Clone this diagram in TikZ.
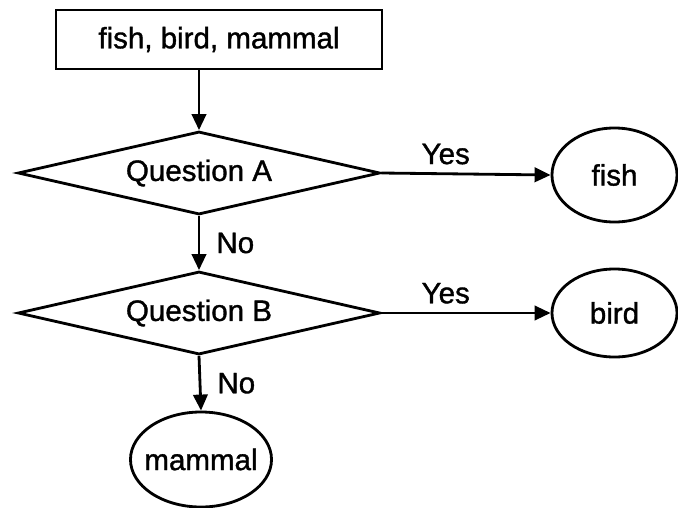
\documentclass[tikz,border=0pt]{standalone}
\usepackage{fontspec}
\setmainfont{Liberation Sans}
\newfontfamily\grasfont{Liberation Sans}[FakeBold=1.2]
\usetikzlibrary{shapes.geometric,arrows.meta}
\tikzset{
    boite/.style={draw,rectangle,minimum width=8.15cm,minimum height=1.475cm,inner sep=0pt},
    question/.style={draw,diamond,shape aspect=4.3,minimum width=9.05cm,minimum height=2.075cm,inner sep=0pt},
    reponse/.style={draw,ellipse,inner sep=0pt,label=center:#1},
    fleche/.style={-{Triangle[length=0.4cm,width=0.36cm]}},
  }
\begin{document}
\begin{tikzpicture}[x=0.025cm,y=-0.025cm,line width=2pt,font=\grasfont\fontsize{21}{25}\selectfont]
  \useasboundingbox (0,0) rectangle (678,507);
  %depart
  \node[boite] (depart) at (219,39.5) {fish, bird, mammal};
  %questions A et B
  \node[question] (qA) at (199,173) {Question A};
  \node[question] (qB) at (199,313) {Question B};
  %reponses
  \node[reponse=fish,minimum width=3.125cm,minimum height=2.35cm] (fish) at (614.5,175) {};
  \node[reponse=bird,minimum width=3.125cm,minimum height=2.2cm] (bird) at (614.5,313) {};
  \node[reponse=mammal,minimum width=3.525cm,minimum height=2.375cm] (mammal) at (201,459.5) {};
  %fleches
  \draw[fleche] (depart.south -| qA.north) -- (qA.north);
  \draw[fleche] (qA.east) -- (fish.west) node[pos=0.38,above=0.2cm,inner sep=0pt] {Yes};
  \draw[fleche] (qA.south) -- (qB.north) node[midway,right=0.4cm,inner sep=0pt] {No};
  \draw[fleche] (qB.east) -- (bird.west) node[pos=0.38,above=0.2cm,inner sep=0pt] {Yes};
  \draw[fleche] (qB.south) -- (mammal.north) node[midway,right=0.4cm,inner sep=0pt] {No};
\end{tikzpicture}
\end{document}
